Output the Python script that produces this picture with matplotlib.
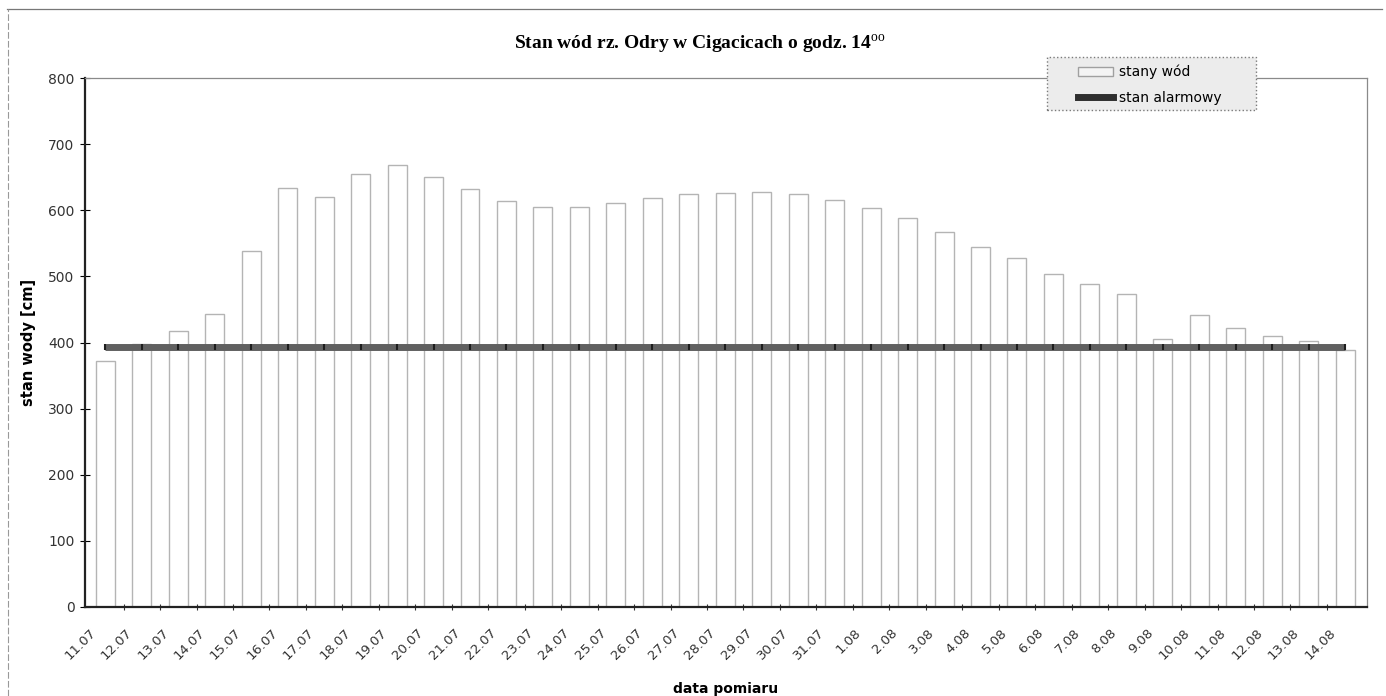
import matplotlib.pyplot as plt
from matplotlib.patches import Rectangle
from matplotlib.lines import Line2D

# Daily readings of the Odra river gauge at Cigacice
dates = ['11.07', '12.07', '13.07', '14.07', '15.07', '16.07', '17.07', '18.07',
         '19.07', '20.07', '21.07', '22.07', '23.07', '24.07', '25.07', '26.07',
         '27.07', '28.07', '29.07', '30.07', '31.07', '1.08', '2.08', '3.08',
         '4.08', '5.08', '6.08', '7.08', '8.08', '9.08', '10.08', '11.08',
         '12.08', '13.08', '14.08']
water_levels = [372, 398, 418, 443, 539, 634, 620, 655, 668, 650, 632, 614,
                605, 605, 611, 618, 625, 626, 628, 625, 615, 604, 588, 567,
                545, 528, 503, 489, 474, 406, 442, 422, 410, 402, 388]
alarm_levels = [393] * len(dates)
y_ticks = [0, 100, 200, 300, 400, 500, 600, 700, 800]

plt.rcParams['mathtext.fontset'] = 'custom'
plt.rcParams['mathtext.rm'] = 'Liberation Serif'

fig = plt.figure(figsize=(13.86, 6.96), dpi=100)
ax = fig.add_axes([0.0613, 0.1282, 0.9250, 0.7594])

x = list(range(len(dates)))
ax.bar(x, water_levels, width=0.52, color='white', edgecolor='#b4b4b4',
       linewidth=1.0, zorder=2)
ax.plot(x, alarm_levels, color='#606060', linewidth=5, zorder=3,
        solid_capstyle='butt')
ax.plot(x, alarm_levels, linestyle='none', marker='|', markersize=4,
        markeredgewidth=1.5, color='#1e1e1e', zorder=4)

ax.set_xlim(-0.56, 34.6)
ax.set_ylim(0, 800)
ax.set_yticks(y_ticks)
# slanted date labels sit slightly left of each bar (major ticks are hidden)
ax.set_xticks([i - 0.45 for i in x])
ax.set_xticklabels(dates, rotation=45, ha='right', va='top',
                   rotation_mode='anchor', fontsize=9.5, color='#333333')
ax.set_xticks([i - 0.5 for i in range(1, len(dates))], minor=True)
ax.tick_params(axis='x', which='major', length=0, pad=14)
ax.tick_params(axis='x', which='minor', direction='inout', length=5,
               width=0.8, color='#333333')
ax.tick_params(axis='y', direction='inout', length=7, width=0.8,
               labelsize=10, labelcolor='#333333', pad=4)

for side in ['left', 'bottom']:
    ax.spines[side].set_color('#222222')
    ax.spines[side].set_linewidth(1.6)
for side in ['top', 'right']:
    ax.spines[side].set_color('#8a8a8a')
    ax.spines[side].set_linewidth(0.9)

ax.set_ylabel('stan wody [cm]', fontsize=10.5, fontweight='bold')
ax.set_xlabel('data pomiaru', fontsize=10, fontweight='bold')
ax.yaxis.set_label_coords(-0.038, 0.5)
ax.xaxis.set_label_coords(0.5, -0.142)

fig.text(0.505, 0.937, r'Stan wód rz. Odry w Cigacicach o godz. 14$^{\mathrm{oo}}$',
         ha='center', va='center', fontsize=14, fontweight='bold',
         family='Liberation Serif')

# legend box drawn by hand so its size can be set exactly
fig.add_artist(Rectangle((0.7554, 0.842), 0.1508, 0.0762,
                         transform=fig.transFigure, facecolor='#ececec',
                         edgecolor='#7a7a7a', linewidth=1.0, linestyle=':',
                         zorder=9))
handles = [Rectangle((0, 0), 1, 1, facecolor='#f4f4f4', edgecolor='#a0a0a0',
                     linewidth=1.0),
           Line2D([0], [0], color='#2e2e2e', linewidth=5)]
leg = fig.legend(handles, ['stany wód', 'stan alarmowy'],
                 loc='upper left', bbox_to_anchor=(0.7778, 0.907),
                 fontsize=10, frameon=False, borderpad=0,
                 labelspacing=0.85, handlelength=2.5, handleheight=0.6,
                 handletextpad=0.45, borderaxespad=0)
leg.set_zorder(10)

# thin page frame around the whole chart
fig.add_artist(Line2D([0.005, 0.997], [0.987, 0.987], color='#777777',
                      linewidth=0.9, transform=fig.transFigure))
fig.add_artist(Line2D([0.0055, 0.0055], [0.0, 0.987], color='#999999',
                      linewidth=0.8, linestyle=(0, (6, 2)),
                      transform=fig.transFigure))

fig.savefig('out.png', dpi=100)
